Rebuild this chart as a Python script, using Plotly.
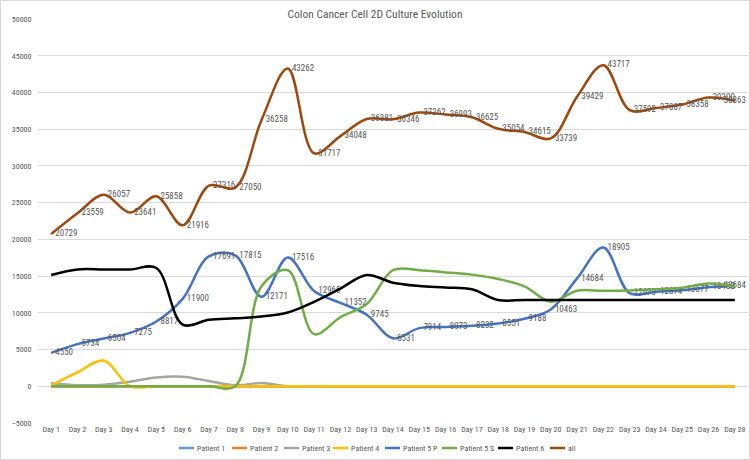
import plotly.graph_objects as go

days = ["Day %d" % i for i in range(1, 27)] + ["Day 28"]

patient1 = [0] * 27
patient2 = [0] * 27
patient3 = [400, 150, 220, 630, 1200, 1300, 720, 130, 450] + [0] * 18
patient4 = [130, 1900, 3500, 0, 0] + [0] * 22
patient5p = [4550, 5734, 6504, 7275, 8817, 11900, 17691, 17815, 12171, 17516, 12965, 11352, 9745, 6531,
             7914, 8073, 8232, 8551, 9188, 10463, 14684, 18905, 12673, 12874, 13077, 13482, 13684]
patient5s = [0, 0, 0, 0, 0, 0, 0, 0, 13600, 15800, 7100, 9400, 11200, 15800, 15800, 15500, 15200, 14600,
             13600, 11500, 13000, 13000, 13050, 13200, 13400, 14000, 13550]
patient6 = [15150, 15900, 15900, 15900, 16100, 8400, 9050, 9250, 9500, 10050, 11500, 13300, 15150, 14100,
            13650, 13450, 13200, 11750, 11750, 11750, 11750, 11750, 11750, 11750, 11750, 11750, 11750]
all_vals = [20729, 23559, 26057, 23641, 25858, 21916, 27316, 27050, 36258, 43262, 31717, 34048, 36381, 36346,
            37262, 36993, 36625, 35054, 34615, 33739, 39429, 43717, 37592, 37887, 38358, 39300, 38863]

series = [
    ("Patient 1", patient1, "#5B9BD5", False),
    ("Patient 2", patient2, "#ED7D31", False),
    ("Patient 3", patient3, "#A5A5A5", False),
    ("Patient 4", patient4, "#FFC000", False),
    ("Patient 5 P", patient5p, "#4472C4", True),
    ("Patient 5 S", patient5s, "#70AD47", False),
    ("Patient 6", patient6, "#000000", False),
    ("all", all_vals, "#9E480E", True),
]

FONT = "Liberation Sans Narrow, Roboto Condensed, DejaVu Sans Condensed, Liberation Sans"

L, R, T, B = 38, 2, 19, 37
W, H = 750, 460
pw, ph = W - L - R, H - T - B


def px_x(px):
    return (px - L) / pw


def px_y(py):
    return (H - B - py) / ph


fig = go.Figure()
for name, vals, color, labels in series:
    n = len(vals)
    texts = ["  " + str(v) for v in vals[:-1]] + [str(vals[-1])]
    positions = ["middle right"] * (n - 1) + ["middle center"]
    fig.add_trace(go.Scatter(
        x=days, y=vals, name=name, showlegend=False,
        mode="lines+text" if labels else "lines",
        text=texts if labels else None,
        textposition=positions,
        textfont=dict(size=9, color="#595959", family=FONT),
        line=dict(color=color, width=2.5, shape="spline", smoothing=1),
        cliponaxis=False,
    ))

# custom legend (line sample + text) placed below the plot
legend_line_x = [179, 232, 284, 333, 385, 442, 498, 550]
legend_y = 448
shapes = [dict(type="rect", xref="paper", yref="paper",
               x0=-(L - 0.5) / pw, x1=1 + (R - 0.5) / pw,
               y0=-(B - 0.5) / ph, y1=1 + (T - 0.5) / ph,
               line=dict(color="#D9D9D9", width=1), layer="below")]
annotations = []
for (name, vals, color, labels), lx in zip(series, legend_line_x):
    shapes.append(dict(type="line", xref="paper", yref="paper",
                       x0=px_x(lx), x1=px_x(lx + 15), y0=px_y(legend_y), y1=px_y(legend_y),
                       line=dict(color=color, width=2.5)))
    annotations.append(dict(text=name, xref="paper", yref="paper", x=px_x(lx + 16), y=px_y(legend_y),
                            xanchor="left", yanchor="middle", showarrow=False,
                            font=dict(size=8, color="#595959", family=FONT)))

fig.update_layout(
    width=W, height=H,
    margin=dict(l=L, r=R, t=T, b=B),
    paper_bgcolor="white", plot_bgcolor="white",
    font=dict(family=FONT, size=8, color="#595959"),
    title=dict(text="Colon Cancer Cell 2D Culture Evolution", x=0.5, xanchor="center",
               y=1 - 14 / H, yanchor="middle", yref="container",
               font=dict(size=11.5, color="#595959", family=FONT)),
    showlegend=False,
    xaxis=dict(type="category", range=[-0.5, 26.5], showgrid=False, showline=False, zeroline=False,
               ticks="", tickfont=dict(size=8, color="#595959", family=FONT), tickangle=0, fixedrange=True),
    yaxis=dict(range=[-5000, 50000], dtick=5000, showgrid=True, gridcolor="#D9D9D9", gridwidth=1,
               zeroline=False, showline=False, ticks="", tickfont=dict(size=8, color="#595959", family=FONT),
               tickformat="d", ticksuffix="   "),
    shapes=shapes,
    annotations=annotations,
)

fig.write_html("out.html")
